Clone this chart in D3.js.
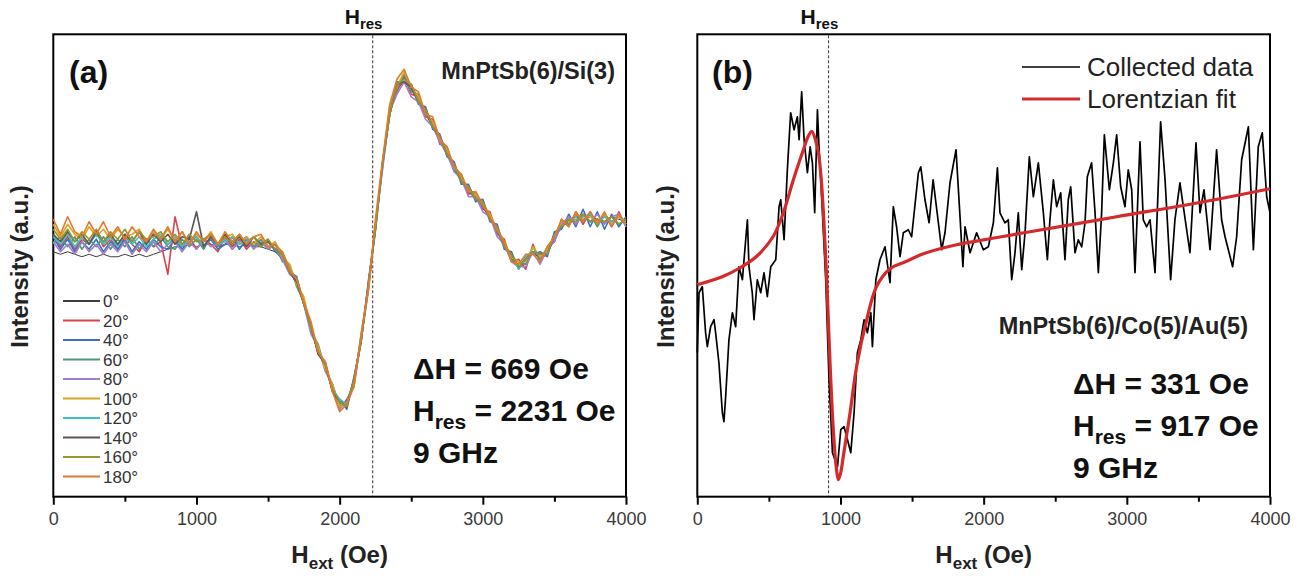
<!DOCTYPE html>
<html>
<head>
<meta charset="utf-8">
<script src="https://cdn.jsdelivr.net/npm/d3@7"></script>
<style>
  body { margin: 0; background: #fff; }
  text { font-family: "Liberation Sans", Arial, sans-serif; }
</style>
</head>
<body>
<div id="chart"></div>
<script>
// ---- panel (a): FMR spectra at several angles, MnPtSb(6)/Si(3) ----
var fieldA = d3.range(0, 4001, 50);   // Oe, one point every 50 Oe
var angles = ["0°", "20°", "40°", "60°", "80°", "100°", "120°", "140°", "160°", "180°"];
var angleColors = ["#3d3d3d", "#d9434f", "#3a6fc4", "#4f9a7a", "#a57cc8", "#d6a62c", "#3dbfc6", "#5e5555", "#97952c", "#e5792b"];

var sig0 = [98,97,98,97,96,97,96,97,96,96, 97,96,97,96,97,98,99,100,100,101, 100,101,101,100,101,101,100,101,100,100,
  99,98,95,90,85,77,67,59,51,43, 37,38,47,64,85,109,133,153,163,166, 163,158,153,148,142,137,131,126,122,119,
  116,111,106,100,95,92,93,98,95,97, 103,108,110,112,111,112,111,110,112,111, 110];
var sig20 = [105,100,104,99,103,101,106,100,103,99, 104,101,98,103,100,102,89,112,100,104, 99,103,101,98,104,100,103,99,102,100,
  102,99,98,91,87,78,67,58,52,44, 35,39,44,63,82,108,133,156,162,168, 161,160,152,151,141,140,130,129,121,122,
  115,114,105,103,94,95,91,101,94,100, 102,111,108,114,109,114,109,113,108,114, 108];
var sig40 = [104,99,103,98,102,99,103,98,102,99, 103,98,102,99,103,100,99,103,99,102, 104,100,103,99,101,104,99,103,100,101,
  103,98,97,90,88,77,69,57,54,42, 39,35,48,62,86,107,133,153,166,166, 165,157,156,147,145,136,134,125,125,118,
  119,110,109,99,98,91,96,97,98,96, 106,107,113,108,115,108,114,107,113,108, 112];
var sig60 = [101,104,100,104,99,103,100,104,99,103, 100,104,99,103,100,104,100,99,103,100, 103,99,104,100,103,99,102,104,100,103,
  99,101,94,93,84,78,66,61,51,45, 36,38,45,65,83,109,132,155,163,169, 162,161,153,150,142,139,131,128,122,121,
  116,113,106,102,95,94,93,100,95,99, 103,110,109,113,110,113,108,113,110,112, 109];
var sig80 = [102,98,101,97,102,98,101,97,101,98, 102,97,101,98,102,98,101,102,98,102, 99,103,100,101,103,99,102,103,99,102,
  99,101,95,89,87,77,65,60,50,45, 35,38,45,63,83,109,131,154,161,166, 160,158,151,148,142,137,130,127,120,120,
  114,112,104,101,94,92,92,98,93,99, 102,109,112,109,113,110,113,109,112,113, 108];
var sig100 = [109,104,109,105,103,108,104,107,103,107, 104,105,107,102,106,103,107,102,106,101, 105,102,106,101,104,105,101,104,101,104,
  100,102,96,93,85,80,67,60,51,45, 36,37,45,64,83,109,133,156,164,170, 164,160,154,150,143,139,132,128,123,121,
  117,113,107,102,96,94,94,100,96,99, 104,110,110,113,112,112,110,113,109,112, 110];
var sig120 = [104,101,105,100,104,101,105,101,104,100, 105,101,104,100,103,105,101,104,100,103, 104,100,104,101,102,104,101,102,104,100,
  102,99,97,90,87,77,68,58,53,43, 39,37,47,62,85,106,133,153,165,166, 165,158,155,148,144,137,133,126,124,119,
  118,111,108,100,97,91,96,98,97,97, 105,108,111,111,112,113,109,112,110,113, 109];
var sig140 = [105,102,106,102,105,101,106,102,105,101, 105,102,106,101,105,102,105,101,104,103, 114,100,104,101,105,101,104,100,104,101,
  102,99,97,90,86,77,68,57,53,42, 38,36,47,62,85,107,134,153,165,166, 164,158,155,148,144,137,133,126,124,119,
  118,111,108,100,97,92,95,98,97,97, 105,108,111,110,113,110,111,110,112,109, 111];
var sig160 = [107,103,107,102,106,103,107,102,106,103, 107,102,106,103,104,106,102,105,101,105, 102,103,105,101,104,101,105,101,104,100,
  103,99,97,90,87,77,68,58,53,43, 38,36,47,62,85,107,134,153,165,167, 165,158,155,148,144,137,133,126,124,119,
  118,111,108,100,97,92,95,98,97,97, 105,108,111,110,113,110,111,110,112,109, 111];
var sig180 = [111,105,112,106,104,110,105,110,104,108, 103,108,104,102,107,103,108,102,106,101, 106,102,105,101,106,102,105,101,104,105,
  100,101,98,91,87,78,70,58,54,42, 34,37,44,65,83,111,135,157,167,171, 164,162,153,152,143,140,132,129,122,122,
  117,112,107,102,94,93,97,97,94,100, 104,111,108,114,110,114,109,114,108,113, 109];
var seriesA = [sig0, sig20, sig40, sig60, sig80, sig100, sig120, sig140, sig160, sig180];

// ---- panel (b): MnPtSb(6)/Co(5)/Au(5), data + Lorentzian fit ----
var bField = [0,12,35,58,70,93,117,128,151,175, 186,198,221,245,268,291,315,338,350,361,
  384,396,419,443,466,489,513,548,571,583, 606,629,652,676,699,711,729,746,769,788,
  804,820,839,850,874,897,920,944,979,1002, 1025,1049,1072,1095,1118,1142,1165,1188,1212,1223,
  1247,1276,1311,1346,1369,1392,1416,1439,1474,1497, 1544,1561,1590,1619,1647,1670,1707,1730,1765,1807,
  1835,1855,1870,1905,1951,1998,2033,2068,2096,2114, 2149,2172,2196,2219,2242,2266,2289,2319,2347,2382,
  2417,2445,2463,2487,2510,2538,2568,2591,2608,2638, 2661,2685,2708,2724,2754,2778,2801,2824,2843,2878,
  2906,2929,2957,2987,3010,3034,3057,3092,3115,3139, 3162,3197,3236,3267,3306,3336,3371,3395,3441,3483,
  3511,3539,3581,3627,3662,3686,3739,3767,3802,3849, 3884,3918,3946,3977,4000];
var bSignal = [28.8,40.8,42.0,32.8,30.0,34.0,35.4,32.8,26.8,16.8, 15.0,20.0,31.4,36.8,34.0,46.0,43.4,51.4,55.4,46.0,
  40.8,35.4,43.4,40.8,44.8,40.0,46.0,47.4,58.0,59.4, 51.4,65.4,76.8,73.4,76.0,71.4,81.0,71.4,64.8,70.0,
  66.8,56.8,77.4,70.0,56.8,43.4,23.4,8.8,6.0,13.4, 14.0,11.4,8.8,16.8,28.8,31.4,35.4,32.8,36.8,30.0,
  43.4,47.4,50.0,42.8,58.0,54.0,48.0,52.8,53.4,52.0, 64.8,66.0,59.4,54.8,63.4,58.0,49.4,52.8,62.8,69.4,
  56.0,46.0,54.0,48.8,52.8,49.4,50.0,54.8,65.8,56.8, 54.8,55.4,43.4,48.8,56.8,45.4,52.8,68.0,60.0,66.8,
  56.8,47.4,55.4,63.4,58.0,60.8,47.4,59.4,62.0,48.8, 51.4,50.0,54.8,64.0,66.8,56.8,44.8,56.8,72.4,61.4,
  66.8,72.4,62.0,58.0,65.4,61.4,44.8,71.0,55.4,54.0, 55.4,44.8,75.0,63.4,43.4,55.4,62.8,58.0,48.8,70.8,
  56.8,61.4,49.4,69.4,55.4,52.0,46.0,52.0,67.4,74.0, 49.4,70.0,72.8,60.0,56.8];
var fitField = [0,182,299,415,531,601,671,741,770,799, 825,846,866,881,904,927,950,970,985,1000,
  1020,1067,1113,1183,1253,1346,1462,1579,1811,2044, 2324,2929,3500,4000];
var fitSignal = [42.4,44.1,45.8,48.1,52.1,56.8,63.4,69.4,71.8,73.1, 71.4,68.8,63.4,56.8,43.4,26.8,13.4,6.0,3.4,4.6,
  8.1,16.8,26.1,35.4,42.1,45.6,47.1,48.6,50.4,51.6, 53.0,56.0,58.8,61.6];

var majorTicks = [0, 1000, 2000, 3000, 4000];
var minorTicks = [500, 1500, 2500, 3500];

var W = 1304, H = 576;
var top0 = 34.3, bottom0 = 496.7;

var svg = d3.select("#chart").append("svg")
    .attr("width", W).attr("height", H)
    .style("background", "#fff");

var xA = d3.scaleLinear().domain([0, 4000]).range([53.3, 626]);
var xB = d3.scaleLinear().domain([0, 4000]).range([697.3, 1270]);
var yA = d3.scaleLinear().domain([0, 185]).range([bottom0, top0]);
var yB = d3.scaleLinear().domain([0, 92.5]).range([bottom0, top0]);

// frame, ticks, axis titles, H_res marker
function drawFrame(x, hres, ytitleX) {
    var x0 = x.range()[0], x1 = x.range()[1];
    var gMinor = svg.append("g").attr("transform", "translate(0," + bottom0 + ")")
        .call(d3.axisBottom(x).tickValues(minorTicks).tickSize(5).tickFormat(""));
    var gMajor = svg.append("g").attr("transform", "translate(0," + bottom0 + ")")
        .call(d3.axisBottom(x).tickValues(majorTicks).tickSize(8).tickPadding(8).tickFormat(d3.format("d")));
    [gMinor, gMajor].forEach(function(g) {
        g.select(".domain").remove();
        g.selectAll("line").attr("stroke", "#000").attr("stroke-width", 2);
    });
    gMajor.selectAll("text")
        .attr("font-size", 18).attr("fill", "#3a3a3a")
        .style("font-family", "'Liberation Sans', Arial, sans-serif");

    svg.append("rect")
        .attr("x", x0).attr("y", top0)
        .attr("width", x1 - x0).attr("height", bottom0 - top0)
        .attr("fill", "none").attr("stroke", "#000").attr("stroke-width", 2);

    // dashed resonance line
    svg.append("line")
        .attr("x1", x(hres)).attr("x2", x(hres))
        .attr("y1", top0 + 1).attr("y2", bottom0 - 1)
        .attr("stroke", "#333").attr("stroke-width", 1)
        .attr("stroke-dasharray", "3,2");

    var hl = svg.append("text")
        .attr("x", x(hres) - 28).attr("y", 24)
        .attr("font-weight", "bold").attr("font-size", 21).attr("fill", "#111");
    hl.append("tspan").text("H");
    hl.append("tspan").attr("dy", 5).attr("font-size", 15).text("res");

    var xt = svg.append("text")
        .attr("x", (x0 + x1) / 2).attr("y", 563)
        .attr("text-anchor", "middle")
        .attr("font-weight", "bold").attr("font-size", 24).attr("fill", "#222");
    xt.append("tspan").text("H");
    xt.append("tspan").attr("dy", 6).attr("font-size", 17).text("ext");
    xt.append("tspan").attr("dy", -6).text(" (Oe)");

    svg.append("text")
        .attr("transform", "translate(" + ytitleX + "," + ((top0 + bottom0) / 2 + 1) + ") rotate(-90)")
        .attr("text-anchor", "middle")
        .attr("font-weight", "bold").attr("font-size", 24).attr("fill", "#222")
        .text("Intensity (a.u.)");
}

function statsBlock(x, yBase, dH, hres) {
    var g = svg.append("g").attr("font-weight", "bold").attr("font-size", 30).attr("fill", "#111");
    g.append("text").attr("x", x).attr("y", yBase).text("\u0394H = " + dH + " Oe");
    var t = g.append("text").attr("x", x).attr("y", yBase + 42);
    t.append("tspan").text("H");
    t.append("tspan").attr("dy", 8).attr("font-size", 21).text("res");
    t.append("tspan").attr("dy", -8).text(" = " + hres + " Oe");
    g.append("text").attr("x", x).attr("y", yBase + 84).text("9 GHz");
}

// ---------- panel (a) ----------
drawFrame(xA, 2231, 28);

var lineA = d3.line()
    .x(function(d, i) { return xA(fieldA[i]); })
    .y(function(d) { return yA(d); });

svg.append("g").selectAll("path")
    .data(seriesA)
    .enter().append("path")
    .attr("d", lineA)
    .attr("fill", "none")
    .attr("stroke", function(d, i) { return angleColors[i]; })
    .attr("stroke-width", function(d, i) { return i === 0 ? 1 : 1.6; })
    .attr("stroke-linejoin", "round");

svg.append("text").attr("x", 69).attr("y", 83)
    .attr("font-weight", "bold").attr("font-size", 32).attr("fill", "#111").text("(a)");
svg.append("text").attr("x", 615).attr("y", 79).attr("text-anchor", "end")
    .attr("font-weight", "bold").attr("font-size", 23.5).attr("fill", "#222").text("MnPtSb(6)/Si(3)");

var legA = svg.append("g").attr("transform", "translate(63,301)");
legA.selectAll("line")
    .data(angles).enter().append("line")
    .attr("x1", 0).attr("x2", 37)
    .attr("y1", function(d, i) { return i * 19.5; })
    .attr("y2", function(d, i) { return i * 19.5; })
    .attr("stroke", function(d, i) { return angleColors[i]; })
    .attr("stroke-width", 2);
legA.selectAll("text")
    .data(angles).enter().append("text")
    .attr("x", 40)
    .attr("y", function(d, i) { return i * 19.5 + 6; })
    .attr("font-size", 17).attr("fill", "#333")
    .text(function(d) { return d; });

statsBlock(413, 379, 669, 2231);

// ---------- panel (b) ----------
drawFrame(xB, 917, 674);

var lineB = d3.line()
    .x(function(d, i) { return xB(bField[i]); })
    .y(function(d) { return yB(d); });
svg.append("path")
    .datum(bSignal)
    .attr("d", lineB)
    .attr("fill", "none").attr("stroke", "#000").attr("stroke-width", 1.7)
    .attr("stroke-linejoin", "round");

var lineFit = d3.line()
    .x(function(d, i) { return xB(fitField[i]); })
    .y(function(d) { return yB(d); })
    .curve(d3.curveCatmullRom.alpha(0.5));
svg.append("path")
    .datum(fitSignal)
    .attr("d", lineFit)
    .attr("fill", "none").attr("stroke", "#d42a2c").attr("stroke-width", 3.2);

svg.append("text").attr("x", 712).attr("y", 83)
    .attr("font-weight", "bold").attr("font-size", 32).attr("fill", "#111").text("(b)");

var legB = [["Collected data", "#000", 1.7, 67], ["Lorentzian fit", "#d42a2c", 3.2, 99]];
legB.forEach(function(r) {
    svg.append("line").attr("x1", 1022).attr("x2", 1080).attr("y1", r[3]).attr("y2", r[3])
        .attr("stroke", r[1]).attr("stroke-width", r[2]);
    svg.append("text").attr("x", 1087).attr("y", r[3] + 9)
        .attr("font-size", 26).attr("fill", "#222").text(r[0]);
});

svg.append("text").attr("x", 1248).attr("y", 334).attr("text-anchor", "end")
    .attr("font-weight", "bold").attr("font-size", 23.5).attr("fill", "#222").text("MnPtSb(6)/Co(5)/Au(5)");

statsBlock(1073, 394, 331, 917);
</script>
</body>
</html>
